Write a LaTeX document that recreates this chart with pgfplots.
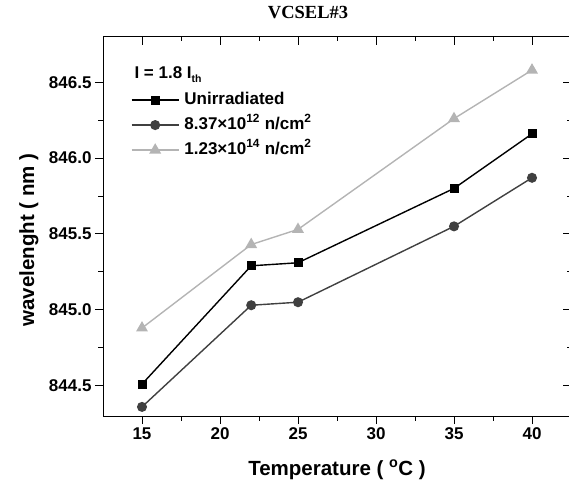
\documentclass[border=0pt]{standalone}
\usepackage{pgfplots}
\pgfplotsset{compat=1.18}
\usepackage{fontspec}
\setmainfont{Liberation Sans}
\newfontfamily\titlefont{Liberation Serif}
\definecolor{dgray}{HTML}{404040}
\definecolor{lgray}{HTML}{B4B4B4}
\begin{document}
\begin{tikzpicture}[x=1pt,y=1pt]
\pgfplotsset{
  myaxis/.style={
    scale only axis, width=468pt, height=379.3pt,
    at={(103pt,74pt)}, anchor=south west,
    xmin=12.5, xmax=42.5, ymin=844.3, ymax=846.8,
    xtick={15,20,25,30,35,40}, ytick={844.5,845.0,845.5,846.0,846.5},
    minor x tick num=1, minor y tick num=1,
    major tick length=8pt, minor tick length=4.5pt,
    every tick/.style={black, line width=1pt},
    axis line style={black, line width=1pt},
    /pgf/number format/assume math mode=true,
    tick label style={font=\fontsize{17}{20}\selectfont\bfseries},
  }
}
\begin{axis}[myaxis,
  axis x line*=bottom, axis y line*=left, tick align=outside,
  yticklabel style={/pgf/number format/.cd, fixed, fixed zerofill, precision=1},
  xticklabel style={/pgf/number format/.cd, fixed, precision=0},
  legend style={draw=none, fill=none, at={(0.0598,0.854)}, anchor=north west,
    font=\fontsize{17}{20}\selectfont\bfseries, inner sep=0pt, outer sep=0pt,
    row sep=9pt, column sep=5pt,
    nodes={inner sep=0pt, text height=12pt, text depth=4pt}},
  legend cell align=left,
  legend image code/.code={\draw[mark repeat=2, mark phase=2] plot coordinates {(0pt,0pt) (23.5pt,0pt) (47pt,0pt)};},
]
\addplot[black, line width=1.4pt, mark=square*, mark size=3.8pt, mark options={solid}]
  coordinates {(15,844.51) (22,845.29) (25,845.31) (35,845.80) (40,846.16)};
\addlegendentry{Unirradiated}
\addplot[dgray, line width=1.4pt, mark=*, mark size=4.3pt]
  coordinates {(15,844.36) (22,845.03) (25,845.05) (35,845.55) (40,845.87)};
\addlegendentry{8.37×10\textsuperscript{12} n/cm\textsuperscript{2}}
\addplot[lgray, line width=1.4pt, mark=triangle*, mark size=5.5pt]
  coordinates {(15,844.88) (22,845.43) (25,845.53) (35,846.26) (40,846.58)};
\addlegendentry{1.23×10\textsuperscript{14} n/cm\textsuperscript{2}}
\end{axis}
\begin{axis}[myaxis,
  axis x line*=top, axis y line*=right, tick align=inside,
  xticklabels={}, yticklabels={}]
\end{axis}
\node[anchor=west, font=\fontsize{17}{20}\selectfont\bfseries] at (131,415) {I = 1.8 I\raisebox{-0.45ex}{\fontsize{10.5}{12}\selectfont th}};
\node[font=\fontsize{18.5}{22}\titlefont\bfseries] at (308,477) {VCSEL\#3};
\node[font=\fontsize{20.5}{24}\selectfont\bfseries] at (337,20) {Temperature ( \textsuperscript{o}C )};
\node[rotate=90, anchor=base, font=\fontsize{20.5}{24}\selectfont\bfseries] at (34,250) {wavelenght ( nm )};
\pgfresetboundingbox
\useasboundingbox (0,0) rectangle (569,490);
\end{tikzpicture}
\end{document}
